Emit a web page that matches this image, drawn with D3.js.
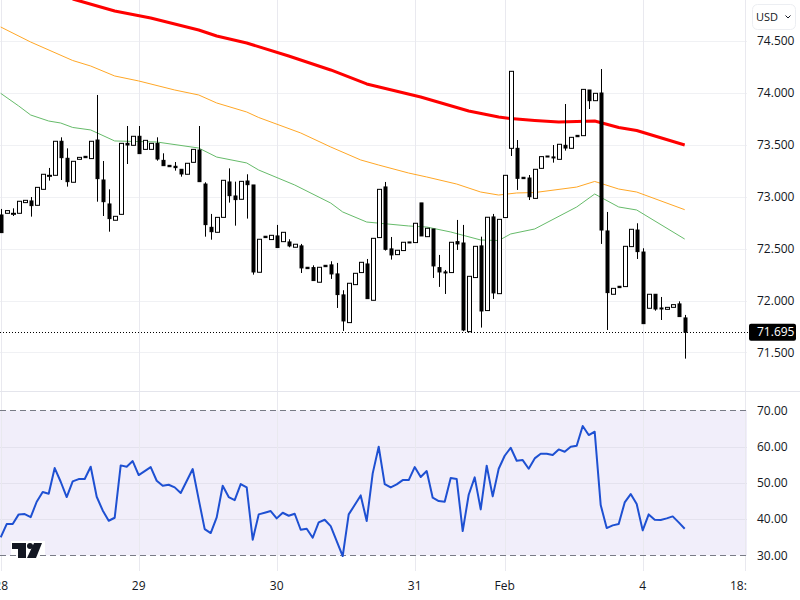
<!DOCTYPE html>
<html>
<head>
<meta charset="utf-8">
<script src="https://cdnjs.cloudflare.com/ajax/libs/d3/7.8.5/d3.min.js"></script>
<style>
  html, body { margin: 0; padding: 0; background: #fff; }
  svg { display: block; font-family: "Open Sans", Roboto, sans-serif; }
</style>
</head>
<body>
<div id="chart"></div>
<script>
const opens = [72.824,72.840,72.834,72.840,72.943,72.959,72.917,73.071,73.200,73.206,73.534,73.370,73.139,73.360,73.389,73.367,73.546,73.161,72.930,72.773,
  72.830,73.514,73.495,73.582,73.456,73.456,73.514,73.350,73.302,73.293,73.264,73.216,73.331,73.450,73.122,72.705,72.657,72.801,73.142,73.007,
  72.975,73.151,73.113,72.272,72.619,72.587,72.622,72.567,72.564,72.513,72.526,72.320,72.317,72.176,72.339,72.343,72.256,72.054,71.787,72.153,
  72.269,72.352,72.002,72.606,73.094,72.497,72.442,72.481,72.564,72.558,72.940,72.615,72.689,72.317,72.275,72.269,72.567,72.554,71.700,72.221,
  72.526,71.903,72.805,72.066,72.799,73.466,73.466,73.187,73.180,72.984,73.273,73.392,73.383,73.360,73.495,73.466,73.591,73.588,74.028,73.925,
  73.999,72.670,72.060,72.137,72.134,72.519,72.679,72.467,71.925,72.060,71.928,71.915,71.934,71.967,71.832];
const highs = [72.882,72.866,72.888,72.956,72.965,72.997,73.090,73.216,73.277,73.534,73.572,73.466,73.341,73.379,73.389,73.534,73.980,73.344,73.071,72.811,
  73.514,73.681,73.582,73.681,73.543,73.514,73.572,73.418,73.302,73.334,73.264,73.322,73.456,73.681,73.139,72.834,72.801,73.158,73.273,73.145,
  73.148,73.216,73.113,72.590,72.619,72.628,72.728,72.657,72.590,72.542,72.545,72.320,72.339,72.320,72.339,72.378,72.362,72.099,72.166,72.262,
  72.368,72.400,72.599,73.071,73.142,72.612,72.484,72.561,72.564,72.744,72.940,72.696,72.689,72.439,72.294,72.561,72.776,72.728,72.233,72.522,
  72.615,72.802,72.834,72.782,73.206,74.208,73.546,73.187,73.209,73.264,73.386,73.392,73.498,73.505,73.893,73.572,73.591,74.034,74.028,73.996,
  74.230,72.853,72.117,72.137,72.522,72.686,72.744,72.503,72.060,72.060,72.034,71.934,71.960,71.992,71.861];
const lows = [72.654,72.840,72.814,72.840,72.943,72.808,72.917,73.071,73.155,73.206,73.161,73.097,73.139,73.360,73.376,73.367,72.952,72.814,72.663,72.773,
  72.830,73.315,73.495,73.415,73.456,73.456,73.347,73.299,73.289,73.251,73.193,73.216,73.331,73.145,72.615,72.586,72.657,72.801,72.943,72.721,
  72.975,72.789,72.249,72.272,72.606,72.587,72.510,72.567,72.513,72.513,72.265,72.307,72.192,72.176,72.326,72.208,71.928,71.707,71.787,72.153,
  72.269,72.018,72.002,72.606,72.481,72.394,72.442,72.481,72.558,72.558,72.622,72.615,72.217,72.131,72.063,72.269,72.487,71.704,71.700,72.221,
  71.739,71.903,72.015,72.066,72.799,73.392,73.065,73.174,72.968,72.984,73.273,73.383,73.328,73.360,73.444,73.466,73.578,73.588,73.845,73.925,
  72.545,71.716,72.060,72.124,72.134,72.519,72.400,71.777,71.925,71.902,71.812,71.915,71.934,71.845,71.440];
const closes = [72.654,72.866,72.840,72.956,72.965,72.914,73.090,73.216,73.206,73.534,73.376,73.145,73.341,73.379,73.376,73.534,73.174,72.952,72.789,72.811,
  73.514,73.498,73.582,73.415,73.543,73.514,73.363,73.299,73.289,73.280,73.219,73.322,73.456,73.145,72.731,72.663,72.801,73.158,73.010,72.972,
  73.148,73.116,72.275,72.590,72.606,72.628,72.510,72.657,72.526,72.542,72.314,72.307,72.192,72.320,72.326,72.256,72.057,71.803,72.166,72.262,
  72.368,72.018,72.599,73.071,72.493,72.439,72.484,72.561,72.558,72.744,72.622,72.696,72.333,72.275,72.269,72.561,72.545,71.716,72.233,72.522,
  71.899,72.802,72.073,72.782,73.206,74.208,73.177,73.174,73.000,73.264,73.386,73.383,73.376,73.505,73.469,73.572,73.578,74.034,73.925,73.996,
  72.679,72.076,72.117,72.124,72.522,72.686,72.471,71.777,72.060,71.918,71.922,71.934,71.960,71.845,71.695];

// moving averages, read at a few candle indexes
const maRedIdx = [12,19,25,33,36,41,48,55,61,70,78,83,85,89,93,99,103,106,114];
const maRed = [74.905,74.789,74.722,74.606,74.548,74.481,74.355,74.221,74.086,73.960,73.826,73.768,73.753,73.734,73.720,73.729,73.667,73.638,73.498];
const maOrangeIdx = [0,5,12,15,19,23,29,33,36,41,43,50,55,60,63,68,71,76,80,83,86,89,96,99,103,106,114];
const maOrange = [74.635,74.490,74.312,74.259,74.163,74.115,74.028,73.980,73.903,73.816,73.763,73.614,73.479,73.354,73.305,73.228,73.190,73.122,73.045,73.016,73.036,73.040,73.093,73.147,73.074,73.045,72.875];
const maGreenIdx = [0,3,5,8,10,12,15,19,26,33,36,41,43,49,55,57,61,68,71,75,80,83,85,89,96,99,103,106,114];
const maGreen = [73.996,73.874,73.787,73.729,73.710,73.667,73.643,73.537,73.527,73.469,73.382,73.325,73.257,73.113,72.939,72.853,72.756,72.718,72.708,72.660,72.583,72.578,72.641,72.689,72.901,73.026,72.901,72.872,72.592];

const rsi = [34.97,38.64,38.64,41.31,41.40,40.57,44.80,47.47,47.01,54.09,50.32,46.09,50.41,51.06,51.06,54.46,46.18,42.41,39.56,40.39,
  54.83,54.46,56.02,52.16,53.26,54.37,50.60,49.22,49.49,48.76,47.20,50.51,53.82,45.45,37.26,36.16,40.48,49.22,46.09,45.26,
  49.68,48.76,34.32,41.31,41.77,42.23,40.21,41.77,40.94,41.49,37.08,37.36,34.87,39.10,39.84,38.09,33.95,29.82,41.31,43.89,
  46.55,39.47,52.62,59.98,49.68,48.76,49.59,50.78,50.78,54.37,51.61,53.26,45.91,44.99,44.80,51.33,51.06,36.71,46.74,51.52,
  42.69,54.74,46.28,53.91,57.49,59.70,56.11,56.30,53.91,56.76,58.05,58.05,57.68,59.24,58.60,59.98,60.25,65.68,63.20,64.11,
  43.89,37.54,38.28,38.64,44.62,46.92,44.16,36.90,41.31,39.84,39.75,40.21,40.76,39.10,37.36];

const priceTicks = [74.5,74,73.5,73,72.5,72,71.5];
const rsiTicks = [70,60,50,40,30];
const timeLabels = ["28","29","30","31","Feb","4","18:00"];
const timeIdx = [0,23,46,69,84,107,124.1];
const lastPrice = 71.695;

const width = 800, height = 600;
const plotRight = 747;
const paneBottom = 391, chartBottom = 571;

const x = d3.scaleLinear().domain([0,114]).range([0.7,684.7]);
const y = d3.scaleLinear().domain([71.5,74.5]).range([352.4,41]);
const yRsi = d3.scaleLinear().domain([30,70]).range([555.4,410.4]);

const svg = d3.select("#chart").append("svg")
    .attr("width", width)
    .attr("height", height);

const defs = svg.append("defs");
defs.append("clipPath").attr("id","main-clip").append("rect")
    .attr("width", plotRight).attr("height", paneBottom);
defs.append("clipPath").attr("id","time-clip").append("rect")
    .attr("y", chartBottom).attr("width", plotRight).attr("height", height - chartBottom);

// rsi band goes under the grid
svg.append("rect")
    .attr("x", 0).attr("y", yRsi(70))
    .attr("width", plotRight).attr("height", yRsi(30) - yRsi(70))
    .attr("fill", "#f1eefa");

const grid = svg.append("g").attr("stroke", "#f0f1f4").attr("stroke-width", 1);
grid.selectAll(".hp").data(priceTicks).join("line")
    .attr("x1", 0).attr("x2", plotRight)
    .attr("y1", d => Math.round(y(d)) + 0.5).attr("y2", d => Math.round(y(d)) + 0.5);
grid.selectAll(".hr").data([60,50,40]).join("line")
    .attr("x1", 0).attr("x2", plotRight)
    .attr("stroke", "#e4e2ee")
    .attr("y1", d => Math.round(yRsi(d)) + 0.5).attr("y2", d => Math.round(yRsi(d)) + 0.5);
grid.selectAll(".v").data(timeIdx).join("line")
    .attr("x1", d => Math.round(x(d)) + 0.5).attr("x2", d => Math.round(x(d)) + 0.5)
    .attr("y1", 0).attr("y2", chartBottom)
    .attr("stroke", "#e9e9ef");

// pane separator
svg.append("line")
    .attr("x1", 0).attr("x2", width)
    .attr("y1", paneBottom + 0.5).attr("y2", paneBottom + 0.5)
    .attr("stroke", "#e4e5ec");

const main = svg.append("g").attr("clip-path", "url(#main-clip)");

function drawMa(idx, values, color, w) {
    const line = d3.line().x(d => x(d[0])).y(d => y(d[1]));
    main.append("path")
        .datum(idx.map((d,i) => [d, values[i]]))
        .attr("fill", "none")
        .attr("stroke", color)
        .attr("stroke-width", w)
        .attr("stroke-linejoin", "round")
        .attr("d", line);
}
drawMa(maOrangeIdx, maOrange, "#ffa726", 1);
drawMa(maGreenIdx, maGreen, "#66bb6a", 1);
drawMa(maRedIdx, maRed, "#ff0000", 3);

// candles, hollow ones get a full 3px white inside
const isUp = i => closes[i] >= opens[i];
const bodyW = i => isUp(i) ? 4 : 3;
const candles = main.append("g").selectAll("g")
    .data(d3.range(opens.length))
    .join("g");
candles.append("line")
    .attr("x1", i => Math.round(x(i)) + 0.5).attr("x2", i => Math.round(x(i)) + 0.5)
    .attr("y1", i => y(highs[i])).attr("y2", i => y(lows[i]))
    .attr("stroke", "#000");
candles.append("rect")
    .attr("x", i => Math.round(x(i)) + 0.5 - bodyW(i) / 2)
    .attr("width", bodyW)
    .attr("y", i => y(Math.max(opens[i], closes[i])))
    .attr("height", i => Math.max(1, Math.abs(y(opens[i]) - y(closes[i]))))
    .attr("fill", i => isUp(i) ? "#fff" : "#000")
    .attr("stroke", "#000")
    .attr("stroke-width", 1);

// last price line
svg.append("line")
    .attr("x1", 0).attr("x2", plotRight + 1)
    .attr("y1", Math.round(y(lastPrice)) + 0.5).attr("y2", Math.round(y(lastPrice)) + 0.5)
    .attr("stroke", "#000")
    .attr("stroke-dasharray", "1 2");

// rsi
svg.selectAll(".band").data([70,30]).join("line")
    .attr("x1", 0).attr("x2", plotRight)
    .attr("y1", d => Math.round(yRsi(d)) + 0.5).attr("y2", d => Math.round(yRsi(d)) + 0.5)
    .attr("stroke", "#787b86")
    .attr("stroke-dasharray", "6 4");
svg.append("path")
    .datum(rsi)
    .attr("fill", "none")
    .attr("stroke", "#1e50d2")
    .attr("stroke-width", 2)
    .attr("stroke-linejoin", "round")
    .attr("d", d3.line().x((d,i) => x(i)).y(d => yRsi(d)));

// tradingview mark
const logo = svg.append("g").attr("transform", "translate(12,543)");
logo.append("rect").attr("x",-1).attr("y",-2).attr("width",34).attr("height",14).attr("fill","#fff");
logo.append("path").attr("fill","#131722").attr("d","M0 0H14V15H6V6H0Z");
logo.append("circle").attr("fill","#131722").attr("cx",18).attr("cy",3).attr("r",3);
logo.append("path").attr("fill","#131722").attr("d","M22 0H30L24 15H15Z");

// axes text
const labels = svg.append("g").attr("font-size", 12).attr("fill", "#131722");
labels.selectAll(".p").data(priceTicks).join("text")
    .attr("x", 757).attr("y", d => y(d)).attr("dy", "0.35em")
    .text(d => d.toFixed(3));
labels.selectAll(".r").data(rsiTicks).join("text")
    .attr("x", 757).attr("y", d => yRsi(d)).attr("dy", "0.35em")
    .text(d => d.toFixed(2));
labels.append("g").attr("clip-path","url(#time-clip)")
    .selectAll("text").data(timeLabels).join("text")
    .attr("x", (d,i) => x(timeIdx[i]) + (i == 0 ? 0.5 : 0)).attr("y", 585.5).attr("dy", "0.35em")
    .attr("text-anchor", "middle")
    .text(d => d);

// last price tag
svg.append("rect")
    .attr("x", 749).attr("y", y(lastPrice) - 8.5)
    .attr("width", 47).attr("height", 17).attr("rx", 2)
    .attr("fill", "#000");
svg.append("text")
    .attr("x", 757).attr("y", y(lastPrice)).attr("dy", "0.35em")
    .attr("font-size", 12).attr("fill", "#fff")
    .text(lastPrice.toFixed(3));

// currency button
svg.append("rect")
    .attr("x", 752.5).attr("y", 4.5).attr("width", 43).attr("height", 25).attr("rx", 5)
    .attr("fill", "#fff").attr("stroke", "#eceef2");
svg.append("text")
    .attr("x", 756).attr("y", 17).attr("dy", "0.35em")
    .attr("font-size", 11).attr("fill", "#131722")
    .text("USD");
svg.append("path")
    .attr("d", "M785.5 15.5L788 18L790.5 15.5")
    .attr("fill", "none").attr("stroke", "#131722");
</script>
</body>
</html>
